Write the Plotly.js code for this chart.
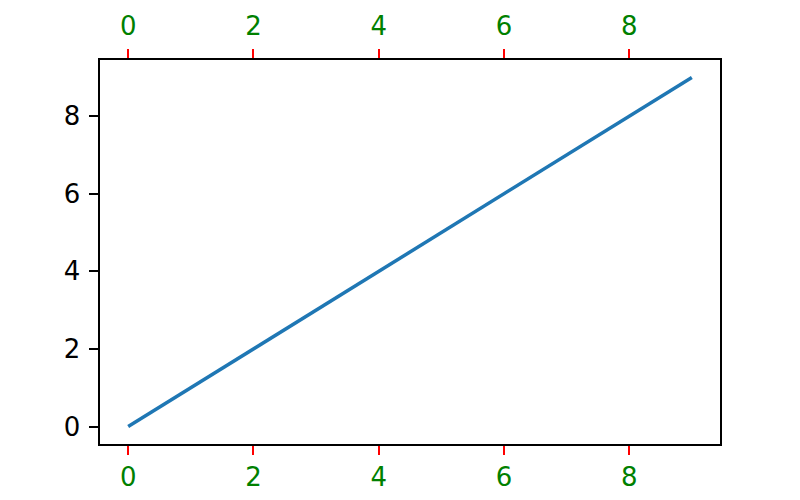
<!DOCTYPE html>
<html>
<head>
<meta charset="utf-8">
<script src="https://cdn.plot.ly/plotly-3.0.1.min.js"></script>
<style>html,body{margin:0;padding:0;background:#fff;}#chart{width:800px;height:500px;}</style>
</head>
<body>
<div id="chart"></div>
<script>
const xValues = [0, 1, 2, 3, 4, 5, 6, 7, 8, 9];
const yValues = [0, 1, 2, 3, 4, 5, 6, 7, 8, 9];
const xTicks = [0, 2, 4, 6, 8];
const yTicks = [0, 2, 4, 6, 8];

const font = {family: 'DejaVu Sans', size: 26, color: '#000'};
const xAxisCommon = {
  range: [-0.45, 9.45],
  tickmode: 'array',
  tickvals: xTicks,
  ticktext: xTicks.map(String),
  ticks: 'outside',
  ticklen: 9,
  tickwidth: 2,
  tickcolor: '#ff0000',
  tickfont: {family: 'DejaVu Sans', size: 26, color: 'green'},
  showgrid: false,
  zeroline: false,
  showline: true,
  linecolor: '#000',
  linewidth: 1.6
};

const traces = [
  {x: xValues, y: yValues, type: 'scatter', mode: 'lines',
   line: {color: '#1f77b4', width: 3.5}, showlegend: false, hoverinfo: 'skip'},
  {x: xValues, y: yValues, xaxis: 'x2', type: 'scatter', mode: 'lines',
   line: {color: 'rgba(0,0,0,0)', width: 0}, showlegend: false, hoverinfo: 'skip'}
];

const layout = {
  width: 800, height: 500,
  margin: {l: 100, r: 80, t: 60, b: 56},
  paper_bgcolor: '#fff', plot_bgcolor: '#fff',
  font: font,
  showlegend: false,
  xaxis: Object.assign({}, xAxisCommon, {side: 'bottom', ticklabelstandoff: 0}),
  xaxis2: Object.assign({}, xAxisCommon, {side: 'top', overlaying: 'x', anchor: 'y', ticklabelstandoff: 4}),
  yaxis: {
    range: [-0.45, 9.45],
    tickmode: 'array',
    tickvals: yTicks,
    ticktext: yTicks.map(String),
    ticks: 'outside',
    ticklen: 9,
    tickwidth: 2,
    tickcolor: '#000',
    tickfont: {family: 'DejaVu Sans', size: 26, color: '#000'},
    ticklabelstandoff: 4,
    showgrid: false,
    zeroline: false,
    showline: true,
    mirror: true,
    linecolor: '#000',
    linewidth: 1.6
  }
};

Plotly.newPlot('chart', traces, layout, {displayModeBar: false, staticPlot: true});
</script>
</body>
</html>
